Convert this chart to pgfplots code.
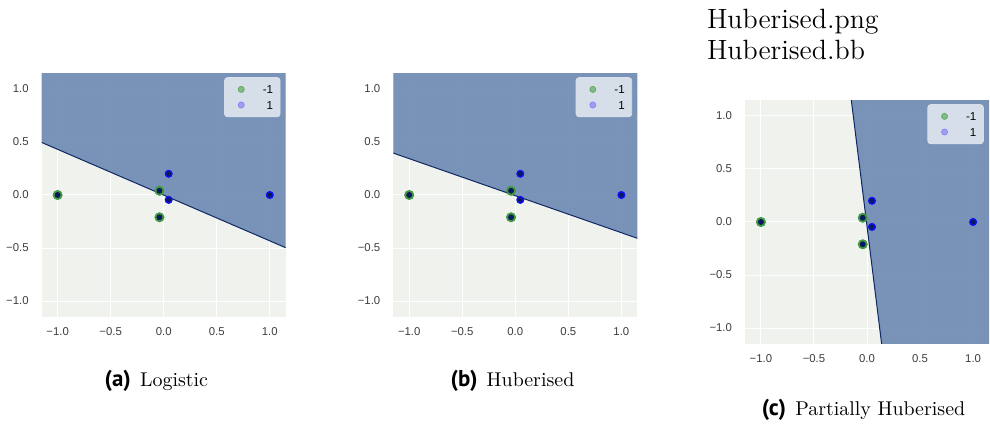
\documentclass[border=0pt]{standalone}
\usepackage{fontspec}
\usepackage{pgfplots}
\pgfplotsset{compat=1.18}
\newfontfamily\tickfont{Liberation Sans}
\newfontfamily\capsans{PT Sans}
\definecolor{bgl}{RGB}{240,242,238}
\definecolor{bgbt}{RGB}{99,131,174}
\definecolor{bline}{RGB}{15,40,100}
\definecolor{halo}{RGB}{65,155,65}
\definecolor{lgreen}{RGB}{95,172,95}
\definecolor{lblue}{RGB}{135,135,245}
\definecolor{navy}{RGB}{10,25,95}
\definecolor{pblue}{RGB}{15,15,245}
\definecolor{tickc}{RGB}{60,60,60}
\pgfplotsset{
  panel/.style={
    scale only axis, width=122bp, height=122bp,
    xmin=-1.15, xmax=1.15, ymin=-1.15, ymax=1.15,
    xtick={-1,-0.5,0,0.5,1}, ytick={-1,-0.5,0,0.5,1},
    xticklabels={−1.0,−0.5,0.0,0.5,1.0},
    yticklabels={−1.0,−0.5,0.0,0.5,1.0},
    axis line style={draw=none}, major tick length=0pt,
    axis background/.style={fill=bgl},
    ticklabel style={font=\tickfont\fontsize{5.7}{6.5}\selectfont, text=tickc},
    xticklabel style={yshift=-2bp}, yticklabel style={xshift=-3bp},
    grid=major, grid style={white, line width=0.5bp},
    legend style={at={(1,1)}, anchor=north east, xshift=-2.6bp, yshift=-2.1bp,
      fill=white, fill opacity=0.7, text opacity=1, draw=white!75!bgbt,
      rounded corners=1.5bp, font=\tickfont\fontsize{5.8}{6.5}\selectfont,
      inner xsep=3bp, inner ysep=2bp, row sep=0bp,
      nodes={text height=4.2bp, text depth=0bp, inner ysep=1.8bp, inner xsep=0.5bp},
      /tikz/every odd column/.append style={column sep=8.8bp}},
    legend cell align=right,
    legend image code/.code={%
      \pgfpathrectangle{\pgfpoint{-5.35bp}{-1bp}}{\pgfpoint{6.85bp}{2bp}}%
      \pgfusepath{discard}%
      \draw[mark repeat=1,##1] plot coordinates {(0bp,0bp)};},
  },
  fillpl/.style={draw=none, fill=bgbt, fill opacity=0.85, forget plot},
}
\newcommand\points{%
  \addlegendimage{only marks, mark=*, mark size=1.5bp, color=lgreen}
  \addlegendentry{-1}
  \addlegendimage{only marks, mark=*, mark size=1.5bp, color=lblue}
  \addlegendentry{1}
  \addplot[only marks, mark=*, mark size=2.3bp, color=halo, forget plot]
    coordinates {(-1,0) (-0.04,0.04) (-0.04,-0.21)};
  \addplot[only marks, mark=*, mark size=1.25bp, color=navy, forget plot]
    coordinates {(-1,0) (-0.04,0.04) (-0.04,-0.21)};
  \addplot[only marks, mark=*, mark size=1.8bp, color=pblue, forget plot]
    coordinates {(0.047,0.2) (0.047,-0.046) (1,0)};
  \addplot[only marks, mark=*, mark size=1.0bp, color=navy, forget plot]
    coordinates {(0.047,0.2) (0.047,-0.046) (1,0)};
}
\newcommand\subcap[2]{{\capsans\bfseries\fontsize{11.5}{12}\selectfont(#1)}\hspace{4.6bp}#2}
\begin{document}
\begin{tikzpicture}
\path[use as bounding box] (0,0) rectangle (495bp,212bp);
% (a) Logistic
\begin{axis}[panel, at={(20.85bp,53.5bp)}, anchor=south west]
  \addplot[fillpl] coordinates {(-1.15,0.495) (1.15,-0.497) (1.15,1.15) (-1.15,1.15) (-1.15,0.495)};
  \addplot[bline, line width=0.5bp, forget plot] coordinates {(-1.15,0.495) (1.15,-0.497)};
  \points
\end{axis}
% (b) Huberised
\begin{axis}[panel, at={(196.65bp,53.5bp)}, anchor=south west]
  \addplot[fillpl] coordinates {(-1.15,0.395) (1.15,-0.408) (1.15,1.15) (-1.15,1.15) (-1.15,0.395)};
  \addplot[bline, line width=0.5bp, forget plot] coordinates {(-1.15,0.395) (1.15,-0.408)};
  \points
\end{axis}
% (c) Partially Huberised
\begin{axis}[panel, at={(372.5bp,40bp)}, anchor=south west]
  \addplot[fillpl] coordinates {(-0.148,1.15) (1.15,1.15) (1.15,-1.15) (0.138,-1.15) (-0.148,1.15)};
  \addplot[bline, line width=0.5bp, forget plot] coordinates {(-0.148,1.15) (0.138,-1.15)};
  \points
\end{axis}
\node[anchor=base, inner sep=0pt, font=\fontsize{10}{12}\selectfont] at (78.15bp,18.65bp) {\subcap{a}{Logistic}};
\node[anchor=base, inner sep=0pt, font=\fontsize{10}{12}\selectfont] at (256.25bp,18.65bp) {\subcap{b}{Huberised}};
\node[anchor=base, inner sep=0pt, font=\fontsize{10}{12}\selectfont] at (431.75bp,4.5bp) {\subcap{c}{Partially Huberised}};
\node[anchor=base west, inner sep=0pt, font=\fontsize{14}{16}\selectfont] at (353.3bp,197.85bp) {Huberised.png};
\node[anchor=base west, inner sep=0pt, font=\fontsize{14}{16}\selectfont] at (353.3bp,182bp) {Huberised.bb};
\end{tikzpicture}
\end{document}
